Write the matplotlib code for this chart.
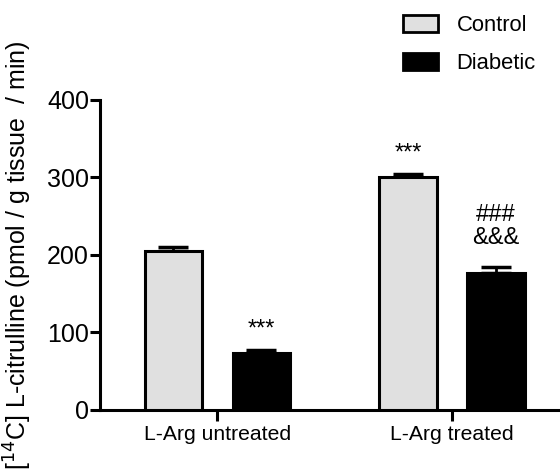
import numpy as np
import matplotlib
matplotlib.use('Agg')
import matplotlib.pyplot as plt
from matplotlib.patches import Patch

# Datos
groups = ["L-Arg untreated", "L-Arg treated"]
series = ["Control", "Diabetic"]
control = [205, 301]
control_err = [5, 4]
diabetic = [73, 177]
diabetic_err = [4, 7]
control_marks = ["", "***"]
diabetic_marks = ["***", "###\n&&&"]
mark_pad = [12, 24]

plt.rcParams['font.family'] = ['Liberation Sans', 'DejaVu Sans']

fig = plt.figure(figsize=(5.6, 4.76), dpi=100)
ax = fig.add_axes([0.1786, 0.139, 0.83, 0.651])

x = np.arange(len(groups))
off = 0.187
w = 0.245
lw = 2.2

ax.bar(x - off, control, w, color='#e0e0e0', edgecolor='black', linewidth=lw, zorder=3)
ax.bar(x + off, diabetic, w, color='black', edgecolor='black', linewidth=lw, zorder=3)

# solo la parte superior de la barra de error
ax.errorbar(x - off, control, yerr=[np.zeros(2), control_err], fmt='none',
            ecolor='black', elinewidth=2, capsize=11, capthick=2.5, zorder=2)
ax.errorbar(x + off, diabetic, yerr=[np.zeros(2), diabetic_err], fmt='none',
            ecolor='black', elinewidth=2, capsize=11, capthick=2.5, zorder=2)

for i in range(len(groups)):
    if control_marks[i]:
        ax.text(x[i] - off, control[i] + control_err[i] + 12, control_marks[i],
                ha='center', va='bottom', fontsize=17)
    if diabetic_marks[i]:
        ax.text(x[i] + off, diabetic[i] + diabetic_err[i] + mark_pad[i], diabetic_marks[i],
                ha='center', va='bottom', fontsize=17, linespacing=1.05)

ax.set_xlim(-0.5, 1.48)
ax.set_ylim(0, 400)
ax.set_yticks([0, 100, 200, 300, 400])
ax.set_xticks(x)
ax.set_xticklabels(groups, fontsize=15.2)
ax.tick_params(axis='y', labelsize=18, width=lw, length=7, pad=1)
ax.tick_params(axis='x', width=lw, length=8, pad=3)

for s in ['top', 'right']:
    ax.spines[s].set_visible(False)
for s in ['left', 'bottom']:
    ax.spines[s].set_linewidth(lw)

ax.set_ylabel("[$^{14}$C] L-citrulline (pmol / g tissue  / min)", fontsize=18)
ax.yaxis.set_label_coords(-0.142, 0.5)

handles = [Patch(facecolor='#e0e0e0', edgecolor='black', linewidth=2),
           Patch(facecolor='black', edgecolor='black', linewidth=2)]
fig.legend(handles, series, loc='upper left', bbox_to_anchor=(0.684, 1.0105),
           frameon=False, fontsize=15.8, handlelength=1.6, handleheight=0.8,
           labelspacing=0.8, handletextpad=0.85)

plt.savefig("out.png", dpi=100)
